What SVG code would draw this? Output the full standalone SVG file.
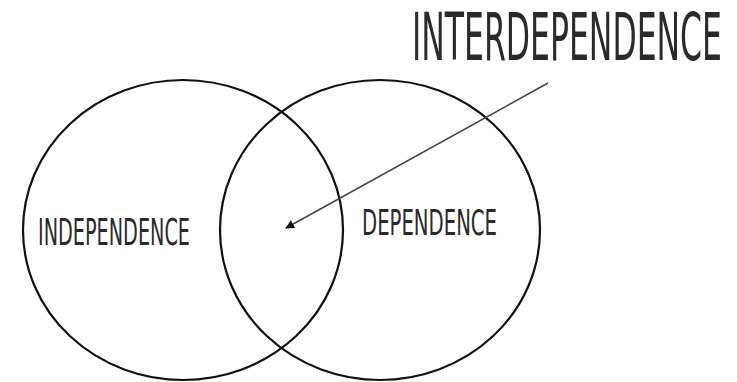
<svg xmlns="http://www.w3.org/2000/svg" width="737" height="382" viewBox="0 0 737 382">
<style>
.set{fill:none;stroke:#111;stroke-width:2.2}
.lbl{font-family:"DejaVu Sans Condensed","Liberation Sans",sans-serif;fill:#2a2a2a}
.conn{stroke:#444;stroke-width:1.5;fill:none}
</style>
<defs>
<marker id="ah" viewBox="0 0 10 10" refX="9" refY="5" markerWidth="9" markerHeight="9" orient="auto" markerUnits="userSpaceOnUse">
<path d="M0,0 L10,5 L0,10 Z" fill="#111"/>
</marker>
</defs>
<rect width="737" height="382" fill="#fff"/>
<g id="independence">
<ellipse class="set" cx="183" cy="230" rx="160" ry="150"/>
<text class="lbl" x="38" y="245" font-size="38" textLength="152" lengthAdjust="spacingAndGlyphs">INDEPENDENCE</text>
</g>
<g id="dependence">
<ellipse class="set" cx="380" cy="230" rx="160" ry="150"/>
<text class="lbl" x="362" y="235" font-size="36" textLength="135" lengthAdjust="spacingAndGlyphs">DEPENDENCE</text>
</g>
<g id="interdependence">
<text class="lbl" x="412" y="30" font-size="33" textLength="310" lengthAdjust="spacingAndGlyphs" transform="scale(1,2)">INTERDEPENDENCE</text>
</g>
<g id="connectors">
<line class="conn" x1="548" y1="83" x2="286" y2="228" marker-end="url(#ah)"/>
</g>
</svg>
